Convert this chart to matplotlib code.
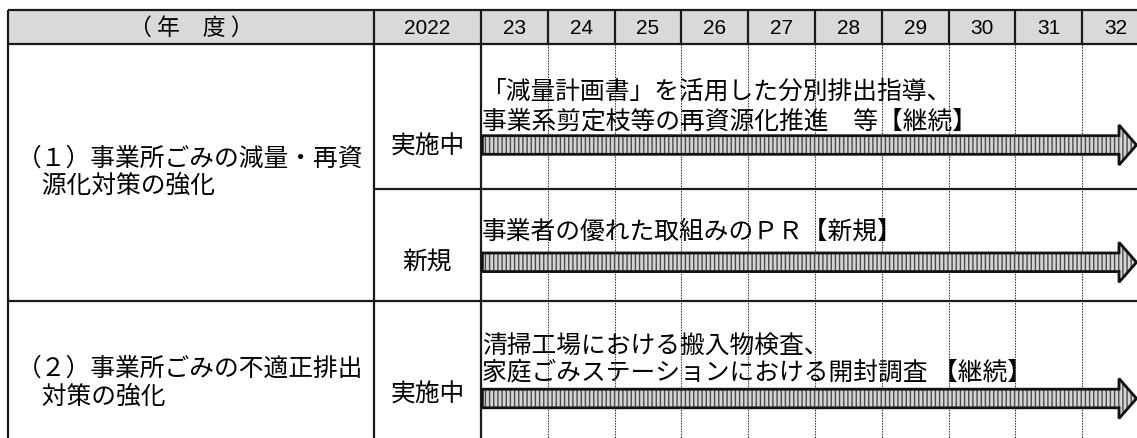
import matplotlib
matplotlib.use("Agg")
import matplotlib.pyplot as plt
from matplotlib.patches import Polygon, Rectangle

plt.rcParams['font.family'] = ['Noto Sans CJK JP', 'DejaVu Sans']
plt.rcParams['hatch.linewidth'] = 1.0

# ---------------- data ----------------
header_title = "（ 年　度 ）"
years = [2022, 2023, 2024, 2025, 2026, 2027, 2028, 2029, 2030, 2031, 2032]
year_labels = ["2022", "23", "24", "25", "26", "27", "28", "29", "30", "31", "32"]

item_labels = [
    "（１）事業所ごみの減量・再資\n　源化対策の強化",
    "（２）事業所ごみの不適正排出\n　対策の強化",
]
status_labels = ["実施中", "新規", "実施中"]
activity_texts = [
    "「減量計画書」を活用した分別排出指導、\n事業系剪定枝等の再資源化推進　等【継続】",
    "事業者の優れた取組みのＰＲ【新規】",
    "清掃工場における搬入物検査、\n家庭ごみステーションにおける開封調査 【継続】",
]
start_years = [2023, 2023, 2023]   # all measures run from FY2023 onward

# ---------------- layout (pixels of a 1137x439 canvas) ----------------
W, H = 1137, 439
GANTT_LEFT_PX = 481.0
COL_PX = 66.8
LEFT_PX, STATUS_PX = 8.0, 374.0
TOP_PX, HEAD_BOT_PX = 11.0, 45.0
ROW_LINES = [190.0, 302.0]
FIRST_GANTT_YEAR = 2023
CJK_SIZE = 17.8


def yr(px):
    return FIRST_GANTT_YEAR + (px - GANTT_LEFT_PX) / COL_PX


fig = plt.figure(figsize=(W / 100, H / 100), dpi=100)
ax = fig.add_axes([0, 0, 1, 1])
x_lo, x_hi = yr(0), yr(W)
ax.set_xlim(x_lo, x_hi)
ax.set_ylim(H, 0)
ax.axis('off')

x_left, x_status = yr(LEFT_PX), yr(STATUS_PX)
border = dict(color='#1a1a1a', lw=1.6, solid_capstyle='butt')

# header band
ax.add_patch(Rectangle((x_left, TOP_PX), x_hi - x_left, HEAD_BOT_PX - TOP_PX,
                       facecolor='#d9d9d9', edgecolor='none', zorder=0))
ax.plot([x_left, x_hi], [TOP_PX, TOP_PX], **border)
ax.plot([x_left, x_hi], [HEAD_BOT_PX, HEAD_BOT_PX], **border)

# main vertical borders
for xv in (x_left, x_status, FIRST_GANTT_YEAR):
    ax.plot([xv, xv], [TOP_PX, H], **border)

# year dividers: solid in header, dotted in body
for y_ in years[2:]:
    ax.plot([y_, y_], [TOP_PX, HEAD_BOT_PX], **border)
    ax.plot([y_, y_], [HEAD_BOT_PX, H], color='#222222', lw=0.8,
            linestyle=(0, (1.2, 1.2)))

# row separators
ax.plot([x_status, x_hi], [ROW_LINES[0]] * 2, **border)
ax.plot([x_left, x_hi], [ROW_LINES[1]] * 2, **border)

# header texts
ax.text((x_left + x_status) / 2, 28, header_title, ha='center', va='center',
        fontsize=16.5)
for y_, lab in zip(years, year_labels):
    if y_ == years[0]:
        xc = (x_status + FIRST_GANTT_YEAR) / 2
    else:
        xc = y_ + 0.5
    ax.text(xc, 28.5, lab, ha='center', va='center', fontsize=15,
            family=['Liberation Sans', 'DejaVu Sans'])


def multiline(x, ys, txt, **kw):
    for line, yy in zip(txt.split('\n'), ys):
        ax.text(x, yy, line, ha='left', va='center', fontsize=CJK_SIZE, **kw)


# item labels (left column)
item_line_y = [[158.5, 185.5], [368.5, 396.5]]
for lab, ys in zip(item_labels, item_line_y):
    multiline(yr(17), ys, lab)

# status labels
status_y = [147, 263, 395]
for lab, yc in zip(status_labels, status_y):
    ax.text((x_status + FIRST_GANTT_YEAR) / 2, yc, lab, ha='center',
            va='center', fontsize=CJK_SIZE)

# activity texts
text_line_y = [[92, 122], [232], [345.5, 373]]
for txt, ys in zip(activity_texts, text_line_y):
    multiline(yr(482), ys, txt)

# arrows
arrow_y = [146, 263.3, 399.5]
body_half, head_half = 9.3, 20.0
head_len = yr(1136.5) - yr(1119)
tip = yr(1136.5)
for sy, yc in zip(start_years, arrow_y):
    x0 = sy + 0.02
    xb = tip - head_len
    pts = [(x0, yc - body_half), (xb, yc - body_half), (xb, yc - head_half),
           (tip, yc), (xb, yc + head_half), (xb, yc + body_half),
           (x0, yc + body_half)]
    ax.add_patch(Polygon(pts, closed=True, facecolor='#d4d4d4',
                         edgecolor='#4a4a4a', hatch='||||', lw=0, zorder=3))
    ax.add_patch(Polygon(pts, closed=True, fill=False, edgecolor='#111111',
                         lw=2.0, joinstyle='miter', zorder=4))

fig.savefig('out.png', dpi=100, facecolor='white')
